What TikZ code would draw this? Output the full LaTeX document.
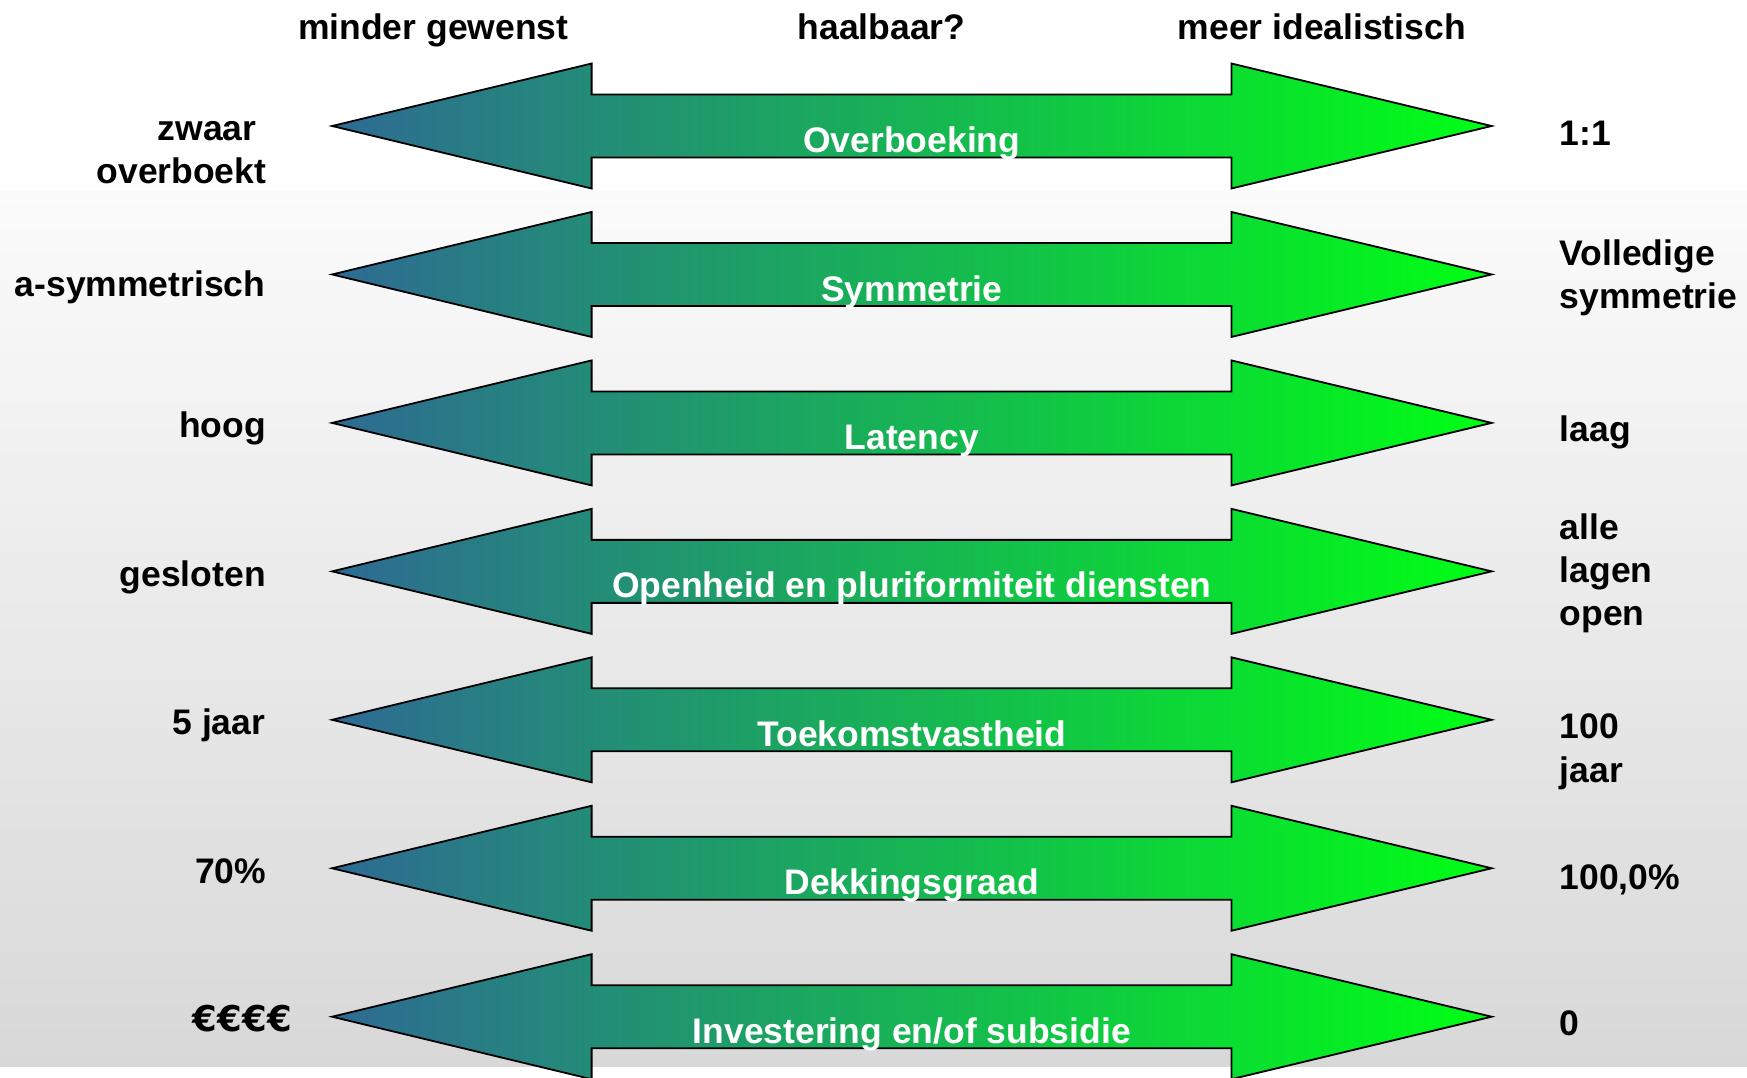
\documentclass[tikz,border=0pt]{standalone}
\usepackage{fontspec}
\setmainfont{Liberation Sans}
\newfontfamily\eurofont{DejaVu Sans}
\definecolor{arL}{RGB}{46,106,148}
\definecolor{arM}{RGB}{36,172,122}
\definecolor{arR}{RGB}{0,255,20}
\definecolor{bgTop}{RGB}{251,251,251}
\definecolor{bgBot}{RGB}{216,216,216}
\newcommand{\dblarrowshape}[1]{%
  \shade[left color=arL, middle color=arM, right color=arR, draw=black, line width=1.8pt, line join=miter]
    (332.1,#1) -- (591.6,#1-62.5) -- (591.6,#1-31.5) -- (1231.4,#1-31.5) -- (1231.4,#1-62.5)
    -- (1491.6,#1) -- (1231.4,#1+62.5) -- (1231.4,#1+31.5) -- (591.6,#1+31.5) -- (591.6,#1+62.5) -- cycle;}
\begin{document}
\begin{tikzpicture}[x=1pt,y=-1pt,
  lbl/.style={font=\bfseries\fontsize{35.5}{42.7}\selectfont, inner sep=0pt, text=black},
  lft/.style={lbl, anchor=base east},
  rgt/.style={lbl, anchor=base west},
  hdr/.style={lbl, anchor=base},
  mid/.style={lbl, anchor=base, text=white}]
\useasboundingbox (0,0) rectangle (1747,1077);
\fill[white] (0,0) rectangle (1747,1077);
\shade[top color=bgTop, bottom color=bgBot] (0,190) rectangle (1747,1066);

% arrows
\dblarrowshape{126}
\dblarrowshape{274.45}
\dblarrowshape{422.9}
\dblarrowshape{571.35}
\dblarrowshape{719.8}
\dblarrowshape{868.25}
\dblarrowshape{1016.7}

% headers
\node[hdr] (h1) at (433.3,39.3) {minder gewenst};
\node[hdr] (h2) at (881.5,39.3) {haalbaar?};
\node[hdr] (h3) at (1321.8,39.3) {meer idealistisch};

% center labels
\node[mid] (m1) at (911.8,152.6) {Overboeking};
\node[mid] (m2) at (911.8,301.05) {Symmetrie};
\node[mid] (m3) at (911.8,449.5) {Latency};
\node[mid] (m4) at (911.8,597.95) {Openheid en pluriformiteit diensten};
\node[mid] (m5) at (911.8,746.4) {Toekomstvastheid};
\node[mid] (m6) at (911.8,894.85) {Dekkingsgraad};
\node[mid] (m7) at (911.8,1043.3) {Investering en/of subsidie};

% left labels
\node[lft] (l1a) at (256.7,140) {zwaar};
\node[lft] (l1b) at (266.5,183.5) {overboekt};
\node[lft] (l2) at (265.5,296) {a-symmetrisch};
\node[lft] (l3) at (266,437.5) {hoog};
\node[lft] (l4) at (266,586.5) {gesloten};
\node[lft] (l5) at (265.5,734.3) {5 jaar};
\node[lft] (l6) at (266.5,883.7) {70\%};
\node[lft, font=\eurofont\bfseries\fontsize{35.5}{42.7}\selectfont] (l7) at (292,1031) {€€€€};

% right labels
\node[rgt] (r1) at (1559.5,145) {1:1};
\node[rgt] (r2a) at (1559.5,265.5) {Volledige};
\node[rgt] (r2b) at (1559.5,308) {symmetrie};
\node[rgt] (r3) at (1559.5,441) {laag};
\node[rgt] (r4a) at (1559.5,539) {alle};
\node[rgt] (r4b) at (1559.5,582) {lagen};
\node[rgt] (r4c) at (1559.5,625) {open};
\node[rgt] (r5a) at (1559.5,738.7) {100};
\node[rgt] (r5b) at (1559.5,782) {jaar};
\node[rgt] (r6) at (1559.5,889.5) {100,0\%};
\node[rgt] (r7) at (1559.5,1035.5) {0};
\end{tikzpicture}
\end{document}
